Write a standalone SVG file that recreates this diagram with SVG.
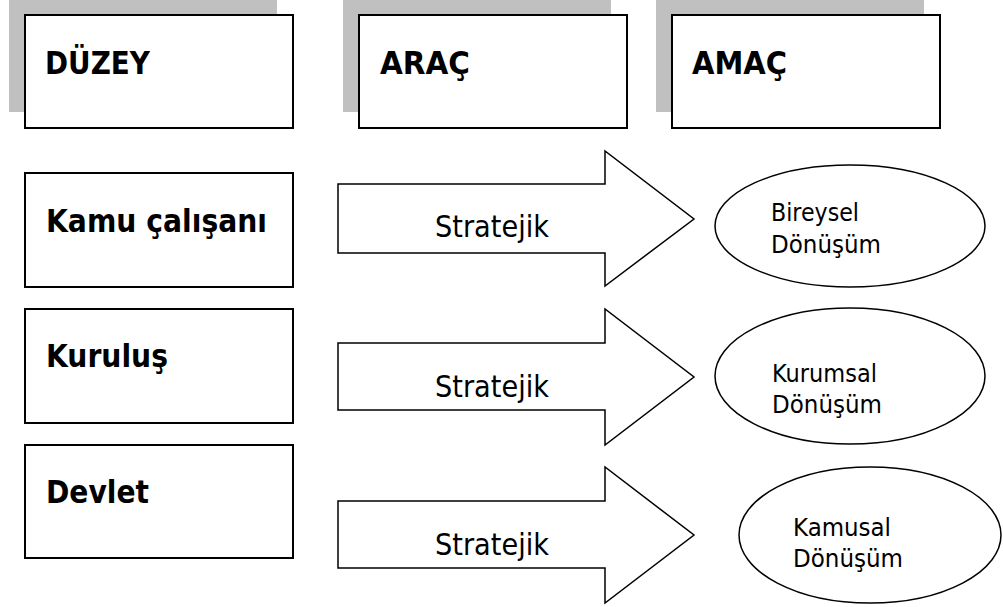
<svg xmlns="http://www.w3.org/2000/svg" width="1003" height="607" viewBox="0 0 1003 607">
<style>
.shadow{fill:#c0c0c0;stroke:none}
.box{fill:#fff;stroke:#000;stroke-width:2}
.arrow{fill:#fff;stroke:#000;stroke-width:1.5;stroke-linejoin:miter}
.ell{fill:#fff;stroke:#000;stroke-width:1.5}
.hd{font-family:"DejaVu Sans",Verdana,sans-serif;font-weight:bold;font-size:32px;fill:#000}
.lb{font-family:"DejaVu Sans",Verdana,sans-serif;font-size:31px;fill:#000}
.el{font-family:"DejaVu Sans",Verdana,sans-serif;font-size:25px;fill:#000}
</style>
<rect width="1003" height="607" fill="#fff"/>
<g id="header-duzey">
<rect class="shadow" x="9" y="0" width="268" height="112"/>
<rect class="box" x="25" y="15" width="268" height="113"/>
<text class="hd" x="45" y="74" textLength="105" lengthAdjust="spacingAndGlyphs">DÜZEY</text>
</g>
<g id="header-arac">
<rect class="shadow" x="343" y="0" width="268" height="112"/>
<rect class="box" x="359" y="15" width="268" height="113"/>
<text class="hd" x="380" y="74" textLength="90" lengthAdjust="spacingAndGlyphs">ARAÇ</text>
</g>
<g id="header-amac">
<rect class="shadow" x="656" y="0" width="268" height="112"/>
<rect class="box" x="672" y="15" width="268" height="113"/>
<text class="hd" x="692" y="74" textLength="95" lengthAdjust="spacingAndGlyphs">AMAÇ</text>
</g>
<g id="level-kamu-calisani">
<rect class="box" x="25" y="173" width="268" height="114"/>
<text class="hd" x="46" y="232" textLength="221" lengthAdjust="spacingAndGlyphs">Kamu çalışanı</text>
</g>
<g id="level-kurulus">
<rect class="box" x="25" y="309" width="268" height="114"/>
<text class="hd" x="46" y="367" textLength="122" lengthAdjust="spacingAndGlyphs">Kuruluş</text>
</g>
<g id="level-devlet">
<rect class="box" x="25" y="445" width="268" height="113"/>
<text class="hd" x="46" y="503" textLength="103" lengthAdjust="spacingAndGlyphs">Devlet</text>
</g>
<g id="connectors">
<g id="arrow-1">
<polygon class="arrow" points="338,184 605,184 605,151 694,219 605,286 605,253 338,253"/>
<text class="lb" x="435" y="237" textLength="114" lengthAdjust="spacingAndGlyphs">Stratejik</text>
</g>
<g id="arrow-2">
<polygon class="arrow" points="338,343 605,343 605,309 694,377 605,445 605,410 338,410"/>
<text class="lb" x="435" y="397" textLength="114" lengthAdjust="spacingAndGlyphs">Stratejik</text>
</g>
<g id="arrow-3">
<polygon class="arrow" points="338,501 605,501 605,467 694,535 605,603 605,568 338,568"/>
<text class="lb" x="435" y="555" textLength="114" lengthAdjust="spacingAndGlyphs">Stratejik</text>
</g>
</g>
<g id="goal-bireysel">
<ellipse class="ell" cx="850" cy="226" rx="135" ry="61"/>
<text class="el" x="771" y="221" textLength="88" lengthAdjust="spacingAndGlyphs">Bireysel</text>
<text class="el" x="771" y="253" textLength="110" lengthAdjust="spacingAndGlyphs">Dönüşüm</text>
</g>
<g id="goal-kurumsal">
<ellipse class="ell" cx="850" cy="376" rx="135" ry="68"/>
<text class="el" x="772" y="382" textLength="105" lengthAdjust="spacingAndGlyphs">Kurumsal</text>
<text class="el" x="772" y="413" textLength="110" lengthAdjust="spacingAndGlyphs">Dönüşüm</text>
</g>
<g id="goal-kamusal">
<ellipse class="ell" cx="870" cy="535" rx="131" ry="68"/>
<text class="el" x="793" y="536" textLength="98" lengthAdjust="spacingAndGlyphs">Kamusal</text>
<text class="el" x="793" y="567" textLength="110" lengthAdjust="spacingAndGlyphs">Dönüşüm</text>
</g>
</svg>
